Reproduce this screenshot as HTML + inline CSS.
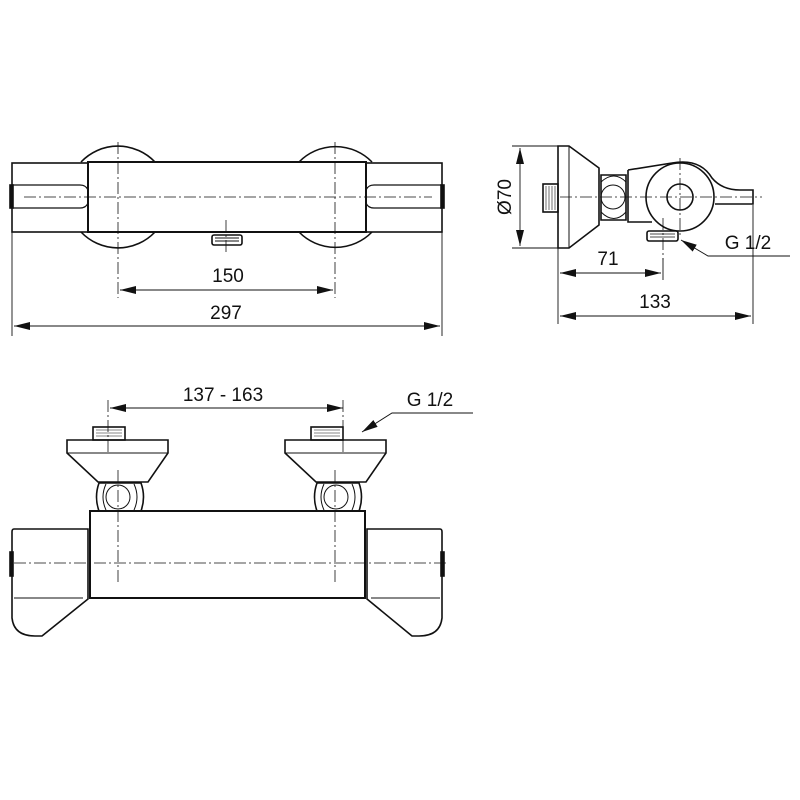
<!DOCTYPE html>
<html><head><style>body{margin:0;background:#fff}svg{display:block}text{font-family:"Liberation Sans",sans-serif;font-size:19px;fill:#111}</style></head><body>
<svg width="800" height="800" viewBox="0 0 800 800" xmlns="http://www.w3.org/2000/svg">
<defs><marker id="a" viewBox="0 0 16 8" refX="16" refY="4" markerWidth="16" markerHeight="8" markerUnits="userSpaceOnUse" orient="auto-start-reverse"><path d="M0,0L16,4L0,8z" fill="#111"/></marker></defs>
<g fill="none" stroke="#111" stroke-width="1.6">
<!-- TOP VIEW -->
<path d="M81,162 A51,51 0 0 1 155,162"/><path d="M81,232 A51,51 0 0 0 155,232"/>
<path d="M299,162 A51,51 0 0 1 372,162"/><path d="M299,232 A51,51 0 0 0 372,232"/>
<rect x="12" y="163" width="76" height="69"/>
<rect x="366" y="163" width="76" height="69"/>
<rect x="88" y="162" width="278" height="70" stroke-width="2"/>
<path d="M12,185 L80,185 Q86,185 88,190 M12,208 L80,208 Q86,208 88,203" stroke-width="1.2"/>
<path d="M442,185 L374,185 Q368,185 366,190 M442,208 L374,208 Q368,208 366,203" stroke-width="1.2"/>
<rect x="10" y="185" width="3" height="23" fill="#111"/><rect x="441" y="185" width="3" height="23" fill="#111"/>
<rect x="212" y="235" width="30" height="10" rx="2"/>
<path d="M215,238h24M215,241h24" stroke-width="1"/>
<g stroke-width="0.8" stroke-dasharray="12,3,2,3"><path d="M24,197H432M118,142V298M335,142V298M226,220V252"/></g>
<g stroke-width="0.9"><path d="M12,232V336M442,232V336"/>
<path d="M120,290H333" marker-start="url(#a)" marker-end="url(#a)"/>
<path d="M14,326H440" marker-start="url(#a)" marker-end="url(#a)"/></g>
<!-- SIDE VIEW -->
<path d="M558,146H569L599,168V225L569,248H558Z"/>
<path d="M569,146V248" stroke-width="1"/>
<rect x="543" y="184" width="15" height="28"/>
<path d="M546,186v24M549,186v24M552,186v24M555,186v24" stroke-width="0.6"/>
<path d="M601,175H626V220H601Z"/>
<path d="M601,182Q614,170 626,182M601,212Q614,225 626,212" stroke-width="1"/>
<circle cx="613" cy="197" r="12" stroke-width="1"/>
<path d="M628,170L672,163M628,170V222L652,222" stroke-width="1.6"/>
<path d="M672,163Q700,158 712,178Q722,190 740,190H753V204H715" stroke-width="1.6"/>
<circle cx="680" cy="197" r="34"/>
<circle cx="680" cy="197" r="13"/>
<rect x="647" y="231" width="31" height="10" rx="2"/>
<path d="M650,234h25M650,237h25" stroke-width="0.8"/>
<g stroke-width="0.8" stroke-dasharray="12,3,2,3"><path d="M560,197H762M680,158V238M663,218V260"/></g>
<g stroke-width="0.9">
<path d="M512,146H558M512,248H558"/>
<path d="M520,148V246" marker-start="url(#a)" marker-end="url(#a)"/>
<path d="M558,248V324M663,258V280M753,205V324"/>
<path d="M560,273H661" marker-start="url(#a)" marker-end="url(#a)"/>
<path d="M560,316H751" marker-start="url(#a)" marker-end="url(#a)"/>
<path d="M790,256H708L681,240" marker-end="url(#a)"/></g>
<!-- BOTTOM VIEW -->
<g id="tap">
<rect x="93" y="427" width="32" height="13"/>
<path d="M96,430h26M96,433h26M96,436h26" stroke-width="0.6"/>
<path d="M67,440H168V453L148,482H98L67,453Z"/>
<path d="M67,453H168" stroke-width="1"/>
<path d="M99,483H141Q146,497 141,511H99Q94,497 99,483Z"/>
<path d="M106,484Q100,497 106,510M134,484Q140,497 134,510" stroke-width="1"/>
<circle cx="118" cy="497" r="12" stroke-width="1"/>
</g>
<use href="#tap" transform="translate(218,0)"/>
<rect x="90" y="511" width="275" height="87" stroke-width="2"/>
<path d="M88,529H14Q12,529 12,532V618Q14,636 35,636H42L88,599Z"/>
<path d="M14,598H83" stroke-width="1"/>
<path d="M367,529H440Q442,529 442,532V618Q440,636 419,636H412L367,599Z"/>
<path d="M371,598H440" stroke-width="1"/>
<rect x="10" y="552" width="3" height="24" fill="#111"/><rect x="441" y="552" width="3" height="24" fill="#111"/>
<g stroke-width="0.8" stroke-dasharray="12,3,2,3"><path d="M14,563H446M108,400V455M118,470V585M343,400V455M335,470V585"/></g>
<g stroke-width="0.9">
<path d="M110,408H343" marker-start="url(#a)" marker-end="url(#a)"/>
<path d="M473,413H392L362,432" marker-end="url(#a)"/></g>
</g>
<text x="228" y="282" text-anchor="middle">150</text>
<text x="226" y="319" text-anchor="middle">297</text>
<text x="608" y="265" text-anchor="middle">71</text>
<text x="655" y="308" text-anchor="middle">133</text>
<text x="748" y="249" text-anchor="middle">G 1/2</text>
<text transform="translate(511,197) rotate(-90)" text-anchor="middle">Ø70</text>
<text x="223" y="401" text-anchor="middle">137 - 163</text>
<text x="430" y="406" text-anchor="middle">G 1/2</text>
</svg>
</body></html>
